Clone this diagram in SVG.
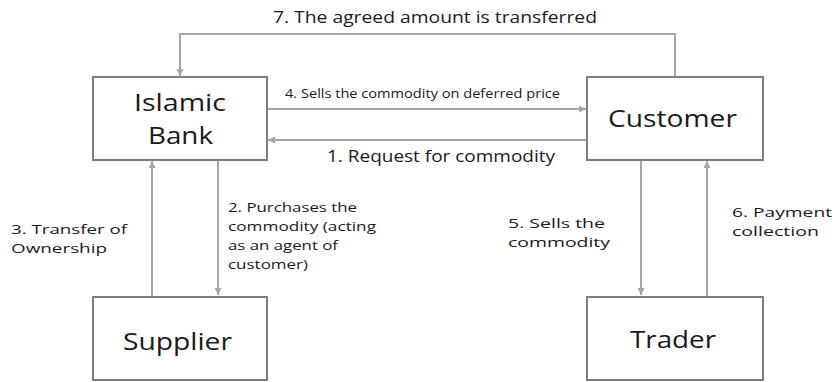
<svg xmlns="http://www.w3.org/2000/svg" width="835" height="382" viewBox="0 0 835 382">
<style>
.box{fill:#ffffff;stroke:#7f7f7f;stroke-width:2}
.node{font-family:"Open Sans","Liberation Sans",sans-serif;font-size:24px;fill:#1a1a1a}
.lbl{font-family:"Open Sans","Liberation Sans",sans-serif;font-size:13.5px;fill:#1a1a1a}
.big{font-size:17px}
.small{font-size:12px}
.edge{fill:none;stroke:#a5a5a5;stroke-width:2;marker-end:url(#ah)}
</style>
<defs>
<marker id="ah" markerUnits="userSpaceOnUse" markerWidth="8" markerHeight="8" refX="7" refY="3.5" orient="auto">
<path d="M0,0 L7,3.5 L0,7 z" fill="#a5a5a5"/>
</marker>
</defs>
<rect width="835" height="382" fill="#ffffff"/>
<g id="connectors">
<polyline class="edge" points="675,76 675,34 180,34 180,76"/>
<line class="edge" x1="267" y1="109" x2="586" y2="109"/>
<line class="edge" x1="587" y1="140" x2="268" y2="140"/>
<line class="edge" x1="152" y1="296" x2="152" y2="161"/>
<line class="edge" x1="218" y1="160" x2="218" y2="295"/>
<line class="edge" x1="641" y1="160" x2="641" y2="295"/>
<line class="edge" x1="707" y1="296" x2="707" y2="161"/>
<text class="lbl big" x="273" y="23" textLength="324" lengthAdjust="spacingAndGlyphs">7. The agreed amount is transferred</text>
<text class="lbl small" x="285" y="98" textLength="275" lengthAdjust="spacingAndGlyphs">4. Sells the commodity on deferred price</text>
<text class="lbl big" x="327" y="162" textLength="228" lengthAdjust="spacingAndGlyphs">1. Request for commodity</text>
<text class="lbl" x="11" y="234" textLength="116" lengthAdjust="spacingAndGlyphs">3. Transfer of</text>
<text class="lbl" x="11" y="253" textLength="96" lengthAdjust="spacingAndGlyphs">Ownership</text>
<text class="lbl" x="228" y="212" textLength="129" lengthAdjust="spacingAndGlyphs">2. Purchases the</text>
<text class="lbl" x="228" y="231" textLength="148" lengthAdjust="spacingAndGlyphs">commodity (acting</text>
<text class="lbl" x="228" y="250" textLength="110" lengthAdjust="spacingAndGlyphs">as an agent of</text>
<text class="lbl" x="228" y="269" textLength="80" lengthAdjust="spacingAndGlyphs">customer)</text>
<text class="lbl" x="508" y="228" textLength="97" lengthAdjust="spacingAndGlyphs">5. Sells the</text>
<text class="lbl" x="508" y="247" textLength="102" lengthAdjust="spacingAndGlyphs">commodity</text>
<text class="lbl" x="732" y="217" textLength="100" lengthAdjust="spacingAndGlyphs">6. Payment</text>
<text class="lbl" x="732" y="236" textLength="87" lengthAdjust="spacingAndGlyphs">collection</text>
</g>
<g id="bank">
<rect class="box" x="93" y="77" width="174" height="83"/>
<text class="node" x="134" y="111" textLength="92" lengthAdjust="spacingAndGlyphs">Islamic</text>
<text class="node" x="148" y="144" textLength="65" lengthAdjust="spacingAndGlyphs">Bank</text>
</g>
<g id="customer">
<rect class="box" x="587" y="77" width="176" height="83"/>
<text class="node" x="608" y="127" textLength="129" lengthAdjust="spacingAndGlyphs">Customer</text>
</g>
<g id="supplier">
<rect class="box" x="93" y="297" width="174" height="83"/>
<text class="node" x="123" y="350" textLength="109" lengthAdjust="spacingAndGlyphs">Supplier</text>
</g>
<g id="trader">
<rect class="box" x="587" y="297" width="176" height="83"/>
<text class="node" x="630" y="348" textLength="86" lengthAdjust="spacingAndGlyphs">Trader</text>
</g>
</svg>
